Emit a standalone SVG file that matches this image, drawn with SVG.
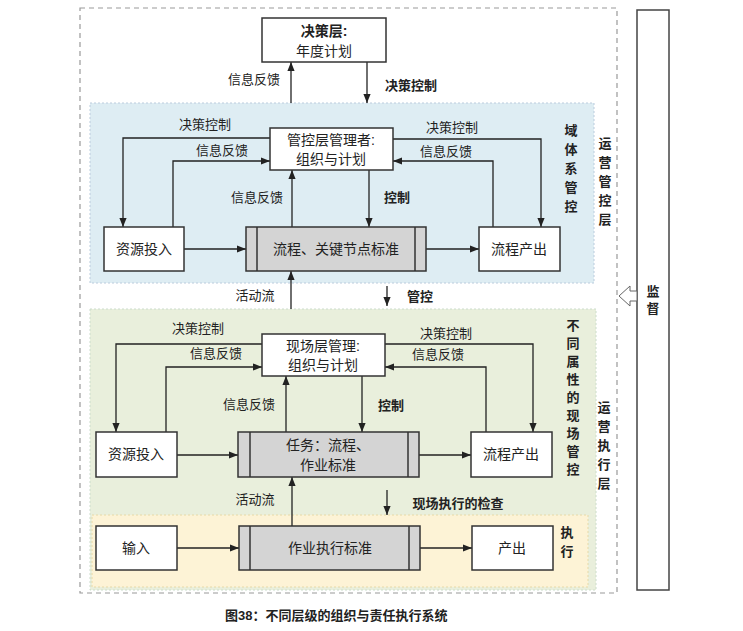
<svg xmlns="http://www.w3.org/2000/svg" width="743" height="631" viewBox="0 0 743 631">
<defs>
<marker id="a" viewBox="0 0 10 10" refX="10" refY="5" markerWidth="7" markerHeight="7" orient="auto-start-reverse"><path d="M0,1 L10,5 L0,9 z" fill="#222"/></marker>
<style>
text{font-family:"Liberation Sans","Noto Sans CJK SC",sans-serif;font-size:13px;fill:#222}
.b{font-weight:bold}
.c{text-anchor:middle}
.box{fill:#fff;stroke:#333;stroke-width:1.5}
.g{fill:#d4d4d4;stroke:#333;stroke-width:1.5}
.ln{fill:none;stroke:#222;stroke-width:1.3;marker-end:url(#a)}
.bx{font-size:14px}
</style>
</defs>
<rect width="743" height="631" fill="#fff"/>
<rect x="80" y="8" width="537" height="585" fill="none" stroke="#999" stroke-width="1.2" stroke-dasharray="5,4"/>
<rect x="90" y="103" width="504" height="180" fill="#deedf3" stroke="#bcd" stroke-dasharray="2,2"/>
<rect x="90" y="309" width="506" height="281" fill="#e9efdc" stroke="#cdc" stroke-dasharray="2,2"/>
<rect x="92" y="515" width="496" height="72" fill="#fdf3d6" stroke="#e6d9a8" stroke-dasharray="2,2"/>
<g id="supervise"><rect x="637" y="10" width="32" height="580" fill="#fff" stroke="#444" stroke-width="1.5"/>
<path d="M619,296 L630,286 L630,291 L637,291 L637,301 L630,301 L630,306 Z" fill="#fff" stroke="#666"/>
<text x="653" y="296" class="c b">监</text><text x="653" y="313" class="c b">督</text></g>
<g id="connectors">
<path class="ln" d="M291,103 V62"/><path class="ln" d="M367,62 V103"/>
<path class="ln" d="M270,138 H123 V227"/><path class="ln" d="M173,227 V161 H270"/>
<path class="ln" d="M393,139 H541 V227"/><path class="ln" d="M493,227 V161 H393"/>
<path class="ln" d="M292,227 V170"/><path class="ln" d="M369,170 V227"/>
<path class="ln" d="M184,249 H246"/><path class="ln" d="M426,249 H479"/>
<path class="ln" d="M291,309 V271"/><path class="ln" d="M387,286 V306"/>
<path class="ln" d="M262,344 H116 V432"/><path class="ln" d="M166,432 V367 H262"/>
<path class="ln" d="M385,344 H533 V432"/><path class="ln" d="M486,432 V367 H385"/>
<path class="ln" d="M286,432 V376"/><path class="ln" d="M362,376 V432"/>
<path class="ln" d="M177,455 H238"/><path class="ln" d="M419,455 H471"/>
<path class="ln" d="M292,526 V477"/><path class="ln" d="M387,490 V515"/>
<path class="ln" d="M177,548 H239"/><path class="ln" d="M420,548 H472"/>
</g>
<g id="decision"><rect class="box" x="262" y="18" width="124" height="44"/><text x="324" y="36" class="c b bx">决策层:</text><text x="324" y="56" class="c bx">年度计划</text></g>
<g id="mgr1"><rect class="box" x="270" y="128" width="123" height="42"/><text x="331" y="145" class="c bx">管控层管理者:</text><text x="331" y="164" class="c bx">组织与计划</text></g>
<g id="res1"><rect class="box" x="104" y="227" width="80" height="44"/><text x="144" y="254" class="c bx">资源投入</text></g>
<g id="proc1"><rect class="g" x="246" y="227" width="180" height="44"/><path d="M257,227 V271 M415,227 V271" stroke="#333" stroke-width="1.5"/><text x="336" y="254" class="c bx">流程、关键节点标准</text></g>
<g id="out1"><rect class="box" x="479" y="227" width="81" height="44"/><text x="519" y="254" class="c bx">流程产出</text></g>
<g id="mgr2"><rect class="box" x="262" y="334" width="123" height="42"/><text x="323" y="351" class="c bx">现场层管理:</text><text x="323" y="370" class="c bx">组织与计划</text></g>
<g id="res2"><rect class="box" x="96" y="432" width="81" height="45"/><text x="136" y="459" class="c bx">资源投入</text></g>
<g id="proc2"><rect class="g" x="238" y="432" width="181" height="45"/><path d="M250,432 V477 M408,432 V477" stroke="#333" stroke-width="1.5"/><text x="328" y="450" class="c bx">任务：流程、</text><text x="328" y="470" class="c bx">作业标准</text></g>
<g id="out2"><rect class="box" x="471" y="432" width="81" height="45"/><text x="511" y="459" class="c bx">流程产出</text></g>
<g id="in3"><rect class="box" x="96" y="526" width="81" height="44"/><text x="136" y="553" class="c bx">输入</text></g>
<g id="proc3"><rect class="g" x="239" y="526" width="181" height="44"/><path d="M250,526 V570 M409,526 V570" stroke="#333" stroke-width="1.5"/><text x="330" y="553" class="c bx">作业执行标准</text></g>
<g id="out3"><rect class="box" x="472" y="526" width="81" height="44"/><text x="512" y="553" class="c bx">产出</text></g>
<g id="labels">
<text x="254" y="84" class="c">信息反馈</text><text x="411" y="90" class="c b">决策控制</text>
<text x="205" y="129" class="c">决策控制</text><text x="222" y="155" class="c">信息反馈</text>
<text x="452" y="132" class="c">决策控制</text><text x="446" y="156" class="c">信息反馈</text>
<text x="257" y="202" class="c">信息反馈</text><text x="397" y="202" class="c b">控制</text>
<text x="255" y="300" class="c">活动流</text><text x="420" y="301" class="c b">管控</text>
<text x="198" y="333" class="c">决策控制</text><text x="216" y="358" class="c">信息反馈</text>
<text x="446" y="338" class="c">决策控制</text><text x="438" y="359" class="c">信息反馈</text>
<text x="249" y="409" class="c">信息反馈</text><text x="391" y="410" class="c b">控制</text>
<text x="255" y="504" class="c">活动流</text><text x="458" y="508" class="c b">现场执行的检查</text>
<text x="225" y="620" class="b">图38：不同层级的组织与责任执行系统</text>
</g>
<g id="vlabels" class="b">
<text x="571" y="135" class="c b">域</text><text x="571" y="154" class="c b">体</text><text x="571" y="173" class="c b">系</text><text x="571" y="192" class="c b">管</text><text x="571" y="211" class="c b">控</text>
<text x="605" y="148" class="c">运</text><text x="605" y="167" class="c">营</text><text x="605" y="186" class="c">管</text><text x="605" y="205" class="c">控</text><text x="605" y="224" class="c">层</text>
<text x="573" y="330" class="c b">不</text><text x="573" y="348" class="c b">同</text><text x="573" y="366" class="c b">属</text><text x="573" y="384" class="c b">性</text><text x="573" y="402" class="c b">的</text><text x="573" y="420" class="c b">现</text><text x="573" y="438" class="c b">场</text><text x="573" y="456" class="c b">管</text><text x="573" y="474" class="c b">控</text>
<text x="604" y="412" class="c">运</text><text x="604" y="431" class="c">营</text><text x="604" y="450" class="c">执</text><text x="604" y="469" class="c">行</text><text x="604" y="488" class="c">层</text>
<text x="567" y="537" class="c b">执</text><text x="567" y="556" class="c b">行</text>
</g>
</svg>
